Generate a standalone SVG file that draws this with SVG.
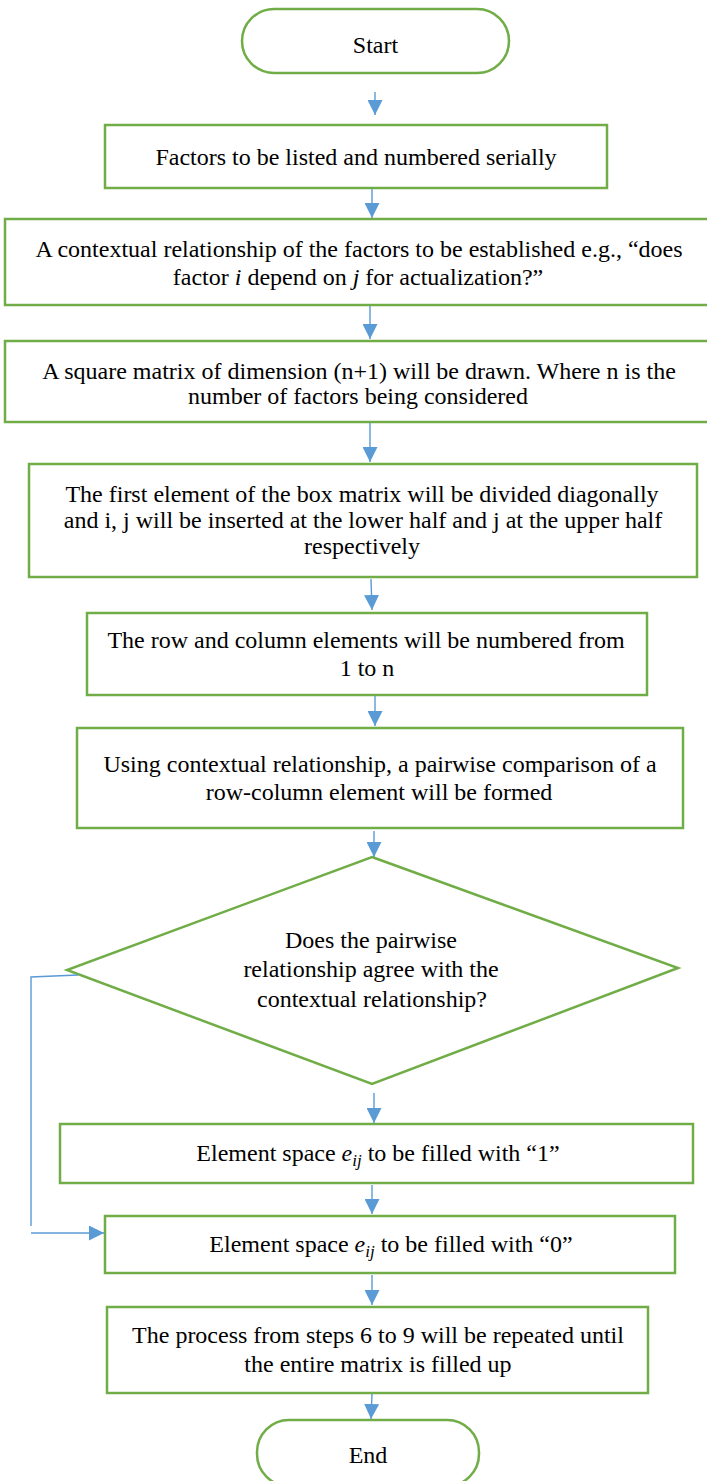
<svg xmlns="http://www.w3.org/2000/svg" width="707" height="1481" viewBox="0 0 707 1481" font-family="Liberation Serif, DejaVu Serif, serif">
  <style>
    .shape { fill: #ffffff; stroke: #70AD47; stroke-width: 2.5; }
    .label { font-size: 24px; fill: #000000; text-anchor: middle; }
    .conn { fill: none; stroke: #5B9BD5; stroke-width: 1.4; }
    .it { font-style: italic; }
    .sub { font-style: italic; font-size: 17px; }
  </style>
  <defs>
    <marker id="arrow" markerUnits="userSpaceOnUse" markerWidth="15" markerHeight="15" refX="15" refY="7.5" orient="auto">
      <path d="M0,0 L15,7.5 L0,15 Z" fill="#5B9BD5"/>
    </marker>
  </defs>
  <rect width="707" height="1481" fill="#ffffff"/>

  <g id="start">
    <rect class="shape" x="242" y="9" width="267" height="64" rx="32" ry="32"/>
    <text class="label" x="375.5" y="53">Start</text>
  </g>

  <g id="step1">
    <rect class="shape" x="105" y="125" width="502" height="63"/>
    <text class="label" x="356" y="165">Factors to be listed and numbered serially</text>
  </g>

  <g id="step2">
    <rect class="shape" x="5" y="219" width="708" height="86"/>
    <text class="label" x="359" y="257">A contextual relationship of the factors to be established e.g., “does</text>
    <text class="label" x="358" y="285">factor <tspan class="it">i</tspan> depend on <tspan class="it">j</tspan> for actualization?”</text>
  </g>

  <g id="step3">
    <rect class="shape" x="5" y="341" width="708" height="81"/>
    <text class="label" x="359" y="379">A square matrix of dimension (n+1) will be drawn. Where n is the</text>
    <text class="label" x="358" y="404">number of factors being considered</text>
  </g>

  <g id="step4">
    <rect class="shape" x="29" y="464" width="668" height="113"/>
    <text class="label" x="362" y="502">The first element of the box matrix will be divided diagonally</text>
    <text class="label" x="363" y="528">and i, j will be inserted at the lower half and j at the upper half</text>
    <text class="label" x="362" y="554">respectively</text>
  </g>

  <g id="step5">
    <rect class="shape" x="87" y="613" width="560" height="82"/>
    <text class="label" x="366" y="648">The row and column elements will be numbered from</text>
    <text class="label" x="367" y="676">1 to n</text>
  </g>

  <g id="step6">
    <rect class="shape" x="77" y="728" width="606" height="100"/>
    <text class="label" x="380" y="772">Using contextual relationship, a pairwise comparison of a</text>
    <text class="label" x="379" y="800">row-column element will be formed</text>
  </g>

  <g id="decision">
    <polygon class="shape" points="372,857 678,968 372,1084 67,970"/>
    <text class="label" x="371" y="948">Does the pairwise</text>
    <text class="label" x="371" y="977">relationship agree with the</text>
    <text class="label" x="372" y="1007">contextual relationship?</text>
  </g>

  <g id="fill-one">
    <rect class="shape" x="60" y="1124" width="633" height="59"/>
    <text class="label" x="378" y="1161">Element space <tspan class="it">e</tspan><tspan class="sub" dy="5">ij</tspan><tspan dy="-5"> to be filled with “1”</tspan></text>
  </g>

  <g id="fill-zero">
    <rect class="shape" x="105" y="1216" width="570" height="57"/>
    <text class="label" x="391" y="1252">Element space <tspan class="it">e</tspan><tspan class="sub" dy="5">ij</tspan><tspan dy="-5"> to be filled with “0”</tspan></text>
  </g>

  <g id="repeat">
    <rect class="shape" x="107" y="1307" width="541" height="86"/>
    <text class="label" x="378" y="1343">The process from steps 6 to 9 will be repeated until</text>
    <text class="label" x="378" y="1372">the entire matrix is filled up</text>
  </g>

  <g id="end">
    <rect class="shape" x="257" y="1420" width="222" height="66" rx="32" ry="32"/>
    <text class="label" x="368" y="1463">End</text>
  </g>

  <g id="connectors">
    <line class="conn" x1="375" y1="92" x2="375" y2="115" marker-end="url(#arrow)"/>
    <line class="conn" x1="372" y1="189" x2="372" y2="218" marker-end="url(#arrow)"/>
    <line class="conn" x1="370" y1="306" x2="370" y2="339" marker-end="url(#arrow)"/>
    <line class="conn" x1="370" y1="423" x2="370" y2="462" marker-end="url(#arrow)"/>
    <line class="conn" x1="371" y1="579" x2="372" y2="610" marker-end="url(#arrow)"/>
    <line class="conn" x1="375" y1="696" x2="375" y2="726" marker-end="url(#arrow)"/>
    <line class="conn" x1="374" y1="831" x2="374" y2="857" marker-end="url(#arrow)"/>
    <line class="conn" x1="374" y1="1093" x2="374" y2="1123" marker-end="url(#arrow)"/>
    <line class="conn" x1="372" y1="1185" x2="372" y2="1214" marker-end="url(#arrow)"/>
    <line class="conn" x1="372" y1="1275" x2="372" y2="1305" marker-end="url(#arrow)"/>
    <line class="conn" x1="372" y1="1394" x2="371" y2="1419" marker-end="url(#arrow)"/>
    <polyline class="conn" points="78,975 31,977 31,1226"/>
    <line class="conn" x1="31" y1="1233" x2="104" y2="1233" marker-end="url(#arrow)"/>
  </g>
</svg>
